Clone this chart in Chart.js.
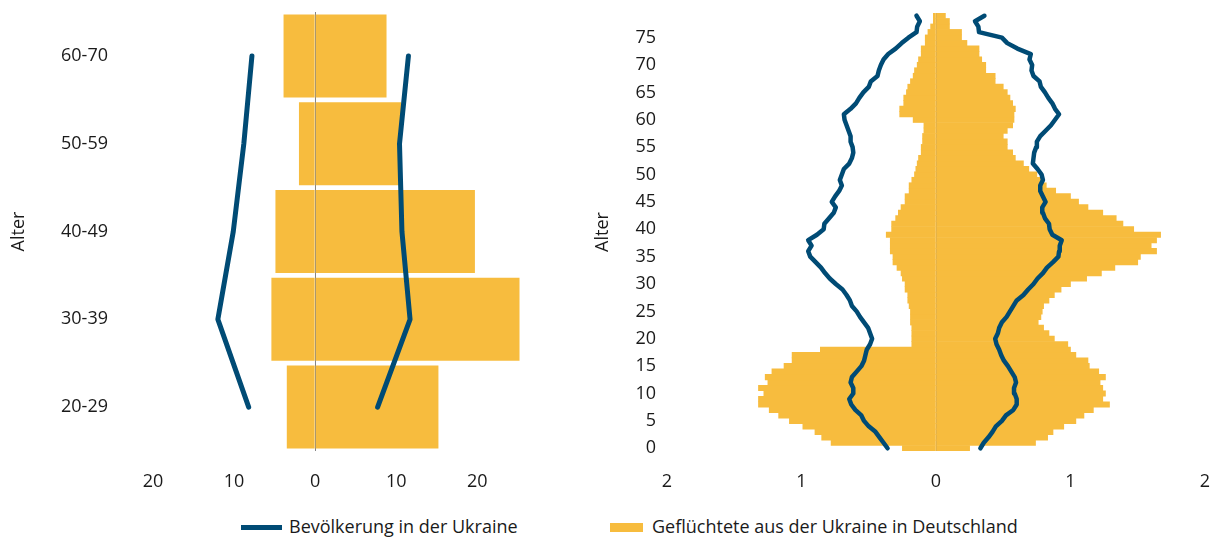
<!DOCTYPE html>
<html>
<head>
<meta charset="utf-8">
<script src="https://cdn.jsdelivr.net/npm/chart.js@4"></script>
<style>
  body { margin: 0; background: #fff; width: 1219px; height: 539px; overflow: hidden; position: relative; font-family: 'Open Sans', sans-serif; color: #1a1a1a; }
  #leftBox { position: absolute; left: 0; top: 0; width: 560px; height: 500px; }
  #rightBox { position: absolute; left: 580px; top: 0; width: 639px; height: 500px; }
  .lg-line { position: absolute; left: 241px; top: 525px; width: 41px; height: 5px; background: #004b75; }
  .lg-box { position: absolute; left: 610px; top: 523px; width: 33px; height: 9px; background: #f7bc3e; }
  .lg-text { position: absolute; top: 514px; font-size: 18px; white-space: nowrap; }
</style>
</head>
<body>
<div id="leftBox"><canvas id="groupChart"></canvas></div>
<div id="rightBox"><canvas id="ageChart"></canvas></div>
<div class="lg-line"></div><div class="lg-text" style="left:289px">Bevölkerung in der Ukraine</div>
<div class="lg-box"></div><div class="lg-text" style="left:652px">Geflüchtete aus der Ukraine in Deutschland</div>
<script>
// ====== DATA ======
const BLUE = '#004b75';
const YELLOW = '#f7bc3e';
const ZERO = '#858585';
const NONE = 'rgba(0,0,0,0)';

// left chart: age groups (bottom to top)
const groupLabels = ['20-29', '30-39', '40-49', '50-59', '60-70'];
const groupRefLeft  = [3.5, 5.4, 4.9, 2.0, 3.9];
const groupRefRight = [15.2, 25.2, 19.7, 10.6, 8.8];
const groupUkrLeft  = [8.2, 12.0, 10.1, 8.8, 7.8];
const groupUkrRight = [7.7, 11.7, 10.7, 10.4, 11.5];
const groupTicks = [-20, -10, 0, 10, 20];

// right chart: single ages 0..79
const ageLabels = Array.from({ length: 80 }, (_, i) => String(i));
const ageRefLeft = [
  0.25, 0.78, 0.85, 0.90, 0.99, 1.09, 1.17, 1.24, 1.32, 1.32,
  1.28, 1.32, 1.25, 1.27, 1.22, 1.13, 1.07, 1.07, 0.86, 0.18,
  0.18, 0.18, 0.18, 0.19, 0.19, 0.19, 0.20, 0.21, 0.21, 0.23,
  0.23, 0.25, 0.26, 0.29, 0.32, 0.32, 0.34, 0.34, 0.34, 0.37,
  0.33, 0.33, 0.30, 0.28, 0.26, 0.23, 0.23, 0.20, 0.20, 0.18,
  0.16, 0.15, 0.14, 0.13, 0.11, 0.11, 0.10, 0.10, 0.09, 0.09,
  0.17, 0.27, 0.27, 0.24, 0.24, 0.22, 0.21, 0.19, 0.17, 0.16,
  0.14, 0.13, 0.11, 0.11, 0.08, 0.08, 0.06, 0.04, 0.02, 0.02
];
const ageRefRight = [
  0.25, 0.74, 0.83, 0.87, 0.95, 1.04, 1.10, 1.17, 1.29, 1.24,
  1.26, 1.24, 1.22, 1.26, 1.21, 1.14, 1.13, 1.04, 1.00, 0.98,
  0.88, 0.84, 0.80, 0.76, 0.78, 0.79, 0.80, 0.84, 0.88, 0.93,
  1.00, 1.12, 1.23, 1.33, 1.50, 1.52, 1.64, 1.60, 1.64, 1.67,
  1.47, 1.39, 1.34, 1.24, 1.13, 1.06, 1.00, 0.89, 0.82, 0.78,
  0.75, 0.69, 0.65, 0.59, 0.57, 0.53, 0.53, 0.50, 0.53, 0.57,
  0.58, 0.58, 0.59, 0.57, 0.55, 0.53, 0.50, 0.44, 0.44, 0.37,
  0.37, 0.34, 0.32, 0.32, 0.23, 0.19, 0.19, 0.10, 0.10, 0.07
];
const ageUkrLeft = [
  0.36, 0.39, 0.42, 0.45, 0.50, 0.535, 0.555, 0.60, 0.63, 0.645,
  0.615, 0.615, 0.635, 0.625, 0.59, 0.555, 0.535, 0.525, 0.515, 0.49,
  0.475, 0.49, 0.505, 0.535, 0.565, 0.59, 0.625, 0.64, 0.665, 0.695,
  0.745, 0.79, 0.825, 0.855, 0.895, 0.935, 0.95, 0.925, 0.95, 0.885,
  0.835, 0.83, 0.795, 0.76, 0.745, 0.775, 0.75, 0.72, 0.70, 0.715,
  0.70, 0.685, 0.645, 0.625, 0.615, 0.62, 0.635, 0.635, 0.65, 0.665,
  0.68, 0.685, 0.635, 0.595, 0.57, 0.54, 0.50, 0.485, 0.435, 0.425,
  0.41, 0.39, 0.355, 0.30, 0.255, 0.205, 0.145, 0.14, 0.12, 0.145
];
const ageUkrRight = [
  0.33, 0.355, 0.39, 0.42, 0.445, 0.49, 0.52, 0.575, 0.60, 0.60,
  0.585, 0.58, 0.595, 0.585, 0.56, 0.535, 0.505, 0.485, 0.47, 0.45,
  0.44, 0.46, 0.47, 0.49, 0.525, 0.55, 0.575, 0.60, 0.65, 0.685,
  0.725, 0.755, 0.795, 0.825, 0.87, 0.91, 0.915, 0.92, 0.935, 0.865,
  0.845, 0.84, 0.81, 0.795, 0.79, 0.815, 0.795, 0.775, 0.775, 0.795,
  0.785, 0.755, 0.72, 0.725, 0.73, 0.745, 0.75, 0.775, 0.815, 0.855,
  0.885, 0.915, 0.885, 0.865, 0.835, 0.81, 0.78, 0.77, 0.725, 0.71,
  0.715, 0.695, 0.705, 0.605, 0.53, 0.49, 0.32, 0.315, 0.29, 0.36
];

const neg = arr => arr.map(v => -v);

// ====== DEFAULTS ======
Chart.defaults.font.family = "'Open Sans', sans-serif";
Chart.defaults.font.size = 18;
Chart.defaults.color = '#1a1a1a';
Chart.defaults.animation = false;
Chart.defaults.responsive = true;
Chart.defaults.maintainAspectRatio = false;

function zeroGrid(ctx) {
  return ctx.tick && ctx.tick.value === 0 ? ZERO : NONE;
}

function lineSet(data, width) {
  return { type: 'line', data: data, borderColor: BLUE, borderWidth: width, pointRadius: 0,
           borderCapStyle: 'round', borderJoinStyle: 'round', fill: false, tension: 0, order: 0 };
}
function barSet(data, pct) {
  return { type: 'bar', data: data, backgroundColor: YELLOW, borderWidth: 0, grouped: false,
           barPercentage: pct, categoryPercentage: 1, order: 1 };
}

// ====== LEFT CHART (age groups) ======
new Chart(document.getElementById('groupChart'), {
  type: 'bar',
  data: {
    labels: groupLabels,
    datasets: [
      lineSet(neg(groupUkrLeft), 5),
      lineSet(groupUkrRight, 5),
      barSet(neg(groupRefLeft), 0.945),
      barSet(groupRefRight, 0.945)
    ]
  },
  options: {
    indexAxis: 'y',
    layout: { padding: { left: 4, right: 34, top: 12, bottom: 0 } },
    plugins: { legend: { display: false }, tooltip: { enabled: false } },
    scales: {
      x: {
        min: -20, max: 26, z: 1,
        afterBuildTicks: s => { s.ticks = groupTicks.map(v => ({ value: v })); },
        afterFit: s => { s.height = 49; },
        grid: { color: zeroGrid, lineWidth: 1, drawTicks: true, tickLength: 20, tickColor: NONE },
        border: { display: false },
        ticks: { padding: 0, callback: v => Math.abs(v) }
      },
      y: {
        reverse: true,
        afterFit: s => { s.width = 149; },
        grid: { display: false, drawTicks: true, tickLength: 45 },
        border: { display: false },
        ticks: { padding: 0 },
        title: { display: true, text: 'Alter', font: { size: 18 } }
      }
    }
  }
});

// ====== RIGHT CHART (single ages) ======
new Chart(document.getElementById('ageChart'), {
  type: 'bar',
  data: {
    labels: ageLabels,
    datasets: [
      lineSet(neg(ageUkrLeft), 4.5),
      lineSet(ageUkrRight, 4.5),
      barSet(neg(ageRefLeft), 1),
      barSet(ageRefRight, 1)
    ]
  },
  options: {
    indexAxis: 'y',
    layout: { padding: { left: 8, right: 14, top: 13, bottom: 0 } },
    plugins: { legend: { display: false }, tooltip: { enabled: false } },
    scales: {
      x: {
        min: -2, max: 2, z: 1,
        afterFit: s => { s.height = 49; },
        grid: { color: zeroGrid, lineWidth: 1, drawTicks: true, tickLength: 20, tickColor: NONE },
        border: { display: false },
        ticks: { stepSize: 1, padding: 0, callback: v => Math.abs(v) }
      },
      y: {
        reverse: true,
        afterFit: s => { s.width = 79; },
        grid: { display: false, drawTicks: true, tickLength: 11 },
        border: { display: false },
        ticks: {
          padding: 0, autoSkip: false,
          callback: function (v) { const l = this.getLabelForValue(v); return Number(l) % 5 === 0 ? l : ''; }
        },
        title: { display: true, text: 'Alter', font: { size: 18 } }
      }
    }
  }
});
</script>
</body>
</html>
